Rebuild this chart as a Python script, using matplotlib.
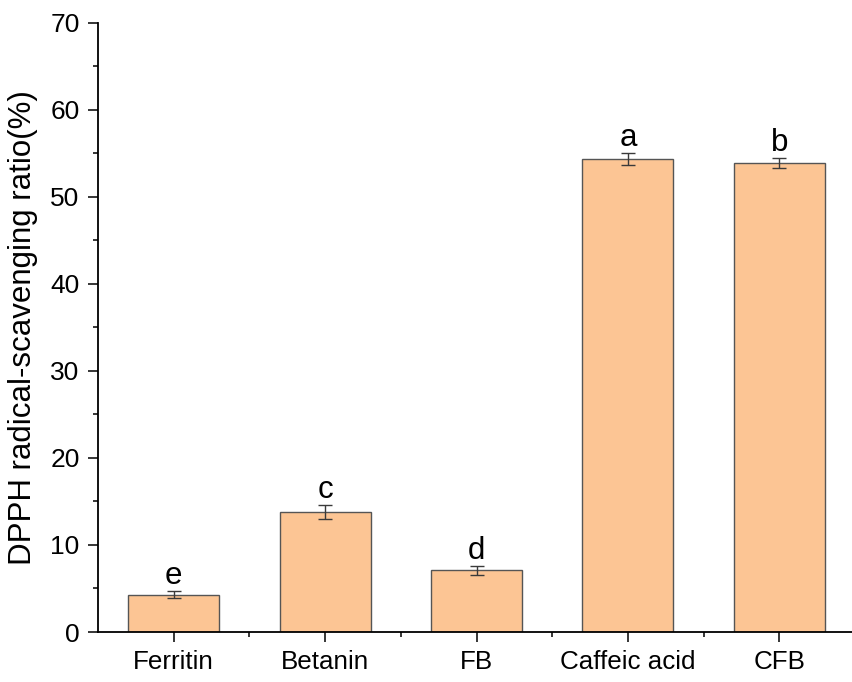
import matplotlib
matplotlib.use("Agg")
import matplotlib.pyplot as plt
import numpy as np
from matplotlib.ticker import MultipleLocator, FixedLocator

categories = ["Ferritin", "Betanin", "FB", "Caffeic acid", "CFB"]
values = [4.3, 13.8, 7.1, 54.35, 53.85]
errors = [0.4, 0.78, 0.5, 0.65, 0.6]
letters = ["e", "c", "d", "a", "b"]

plt.rcParams['font.family'] = ['Liberation Sans', 'DejaVu Sans']

fig = plt.figure(figsize=(8.52, 6.82), dpi=100)
ax = fig.add_axes([98/852, 50/682, (855-98)/852, (632-22.7)/682])

x = np.arange(len(categories))
ax.bar(x, values, width=0.6, color='#FCC594', edgecolor='#555555', linewidth=1.0, zorder=2)
ax.errorbar(x, values, yerr=errors, fmt='none', ecolor='#3a3a3a', elinewidth=1.0,
            capsize=5, capthick=1.0, zorder=3)

for xi, v, e, l in zip(x, values, errors, letters):
    ax.annotate(l, (xi, v + e), xytext=(0, 7), textcoords='offset pixels',
                ha='center', va='baseline', fontsize=22.5)

ax.set_xlim(-0.5, 4.5)
ax.set_ylim(0, 70)
ax.set_xticks(x)
ax.set_xticklabels(categories)
ax.xaxis.set_minor_locator(FixedLocator([0.5, 1.5, 2.5, 3.5]))
ax.yaxis.set_major_locator(MultipleLocator(10))
ax.yaxis.set_minor_locator(MultipleLocator(5))

for s in ['top', 'right']:
    ax.spines[s].set_visible(False)
for s in ['left', 'bottom']:
    ax.spines[s].set_linewidth(1.3)
    ax.spines[s].set_color('black')

ax.tick_params(which='major', length=7.2, width=1.1, direction='out')
ax.tick_params(which='minor', length=3.6, width=1.1, direction='out')
ax.tick_params(axis='y', which='major', pad=6, labelsize=19)
ax.tick_params(axis='x', which='major', pad=6, labelsize=18.7)

ax.set_ylabel("DPPH radical-scavenging ratio(%)", fontsize=22.5, labelpad=9)

fig.savefig("out.png", dpi=100)
